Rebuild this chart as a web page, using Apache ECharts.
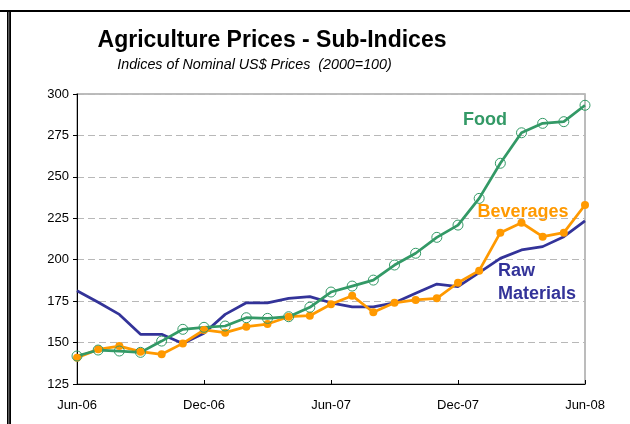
<!DOCTYPE html>
<html>
<head>
<meta charset="utf-8">
<title>Agriculture Prices - Sub-Indices</title>
<script src="https://cdn.jsdelivr.net/npm/echarts@6/dist/echarts.min.js"></script>
<style>
	html, body { margin: 0; padding: 0; background: #fff; }
	#chart-holder { width: 630px; height: 424px; }
</style>
</head>
<body>
<div id="chart-holder"></div>
<script type="text/javascript">
// monthly, Jun-06 .. Jun-08
var months = ['Jun-06', 'Jul-06', 'Aug-06', 'Sep-06', 'Oct-06', 'Nov-06', 'Dec-06',
	'Jan-07', 'Feb-07', 'Mar-07', 'Apr-07', 'May-07', 'Jun-07',
	'Jul-07', 'Aug-07', 'Sep-07', 'Oct-07', 'Nov-07', 'Dec-07',
	'Jan-08', 'Feb-08', 'Mar-08', 'Apr-08', 'May-08', 'Jun-08'];
var food = [141.9, 145.5, 144.9, 144.1, 150.9, 158, 159.2, 160, 165, 164.6, 165.6, 171.3, 180.5,
	184.1, 187.7, 196.8, 203.9, 213.5, 220.9, 237, 258.2, 276.6, 282.3, 283.3, 293.2];
var beverages = [140.9, 145.9, 147.9, 144.5, 142.9, 149.5, 157.6, 156, 159.6, 161.2, 165.6, 166.2, 173.1,
	178.3, 168.3, 174, 175.7, 176.7, 186.1, 193.4, 216.3, 222.3, 213.9, 216.3, 233];
var rawMaterials = [181.3, 174.3, 167, 155, 155, 149.5, 155.6, 167, 174, 174, 176.7, 177.7, 174,
	171.6, 171.6, 174, 179.7, 185.3, 183.7, 192.2, 200.8, 205.9, 207.9, 213.9, 223.4];
var yTicks = {min: 125, max: 300, step: 25};

var green = '#339966', orange = '#ff9900', blue = '#333399';
var font = '"Liberation Sans", Arial, sans-serif';

var option = {
	animation: false,
	textStyle: { fontFamily: font },
	grid: {
		left: 77, right: 45, top: 94, bottom: 40,
		show: true,
		borderColor: '#a6a6a6',
		borderWidth: 1.5,
		backgroundColor: 'transparent'
	},
	xAxis: {
		type: 'category',
		data: months,
		boundaryGap: false,
		axisLine: { lineStyle: { color: '#000', width: 1 } },
		axisTick: { inside: true, length: 4, interval: 5, lineStyle: { color: '#000' } },
		axisLabel: { interval: 5, color: '#000', fontSize: 13, margin: 15, fontFamily: font },
		splitLine: { show: false }
	},
	yAxis: {
		type: 'value',
		min: yTicks.min,
		max: yTicks.max,
		interval: yTicks.step,
		axisLine: { show: true, lineStyle: { color: '#000', width: 1 } },
		axisTick: { show: true, length: 4, lineStyle: { color: '#000' } },
		axisLabel: { color: '#000', fontSize: 13, margin: 8, fontFamily: font },
		splitLine: { lineStyle: { color: '#b8b8b8', type: [7, 4], width: 1 } }
	},
	series: [
		{
			name: 'Raw Materials',
			type: 'line',
			data: rawMaterials,
			showSymbol: false,
			symbol: 'none',
			lineStyle: { color: blue, width: 2.75 },
			itemStyle: { color: blue }
		},
		{
			name: 'Beverages',
			type: 'line',
			data: beverages,
			symbol: 'circle',
			symbolSize: 8,
			lineStyle: { color: orange, width: 2.75 },
			itemStyle: { color: orange }
		},
		{
			name: 'Food',
			type: 'line',
			data: food,
			symbol: 'circle',
			symbolSize: 10,
			lineStyle: { color: green, width: 2.75 },
			itemStyle: { color: 'rgba(0,0,0,0)', borderColor: green, borderWidth: 1 }
		}
	],
	graphic: [
		// frame on the left and top
		{ type: 'rect', shape: { x: 0, y: 10, width: 630, height: 2 }, style: { fill: '#000' } },
		{ type: 'rect', shape: { x: 7, y: 10, width: 4, height: 414 }, style: { fill: '#000' } },
		{ type: 'rect', shape: { x: 8.3, y: 12, width: 1, height: 412 }, style: { fill: '#888' } },
		{
			type: 'text', x: 272, y: 41,
			style: { text: 'Agriculture Prices - Sub-Indices', font: 'bold 23px ' + font, fill: '#000', align: 'center', verticalAlign: 'middle' }
		},
		{
			type: 'text', x: 254.5, y: 65,
			style: { text: 'Indices of Nominal US$ Prices  (2000=100)', font: 'italic 14.3px ' + font, fill: '#000', align: 'center', verticalAlign: 'middle' }
		},
		{
			type: 'text', x: 485, y: 120,
			style: { text: 'Food', font: 'bold 18px ' + font, fill: green, align: 'center', verticalAlign: 'middle' }
		},
		{
			type: 'text', x: 523, y: 212,
			style: { text: 'Beverages', font: 'bold 18px ' + font, fill: orange, align: 'center', verticalAlign: 'middle' }
		},
		{
			type: 'text', x: 498, y: 271,
			style: { text: 'Raw', font: 'bold 18px ' + font, fill: blue, align: 'left', verticalAlign: 'middle' }
		},
		{
			type: 'text', x: 498, y: 294,
			style: { text: 'Materials', font: 'bold 18px ' + font, fill: blue, align: 'left', verticalAlign: 'middle' }
		}
	]
};

var myChart = echarts.init(document.getElementById('chart-holder'));
myChart.setOption(option);
</script>
</body>
</html>
